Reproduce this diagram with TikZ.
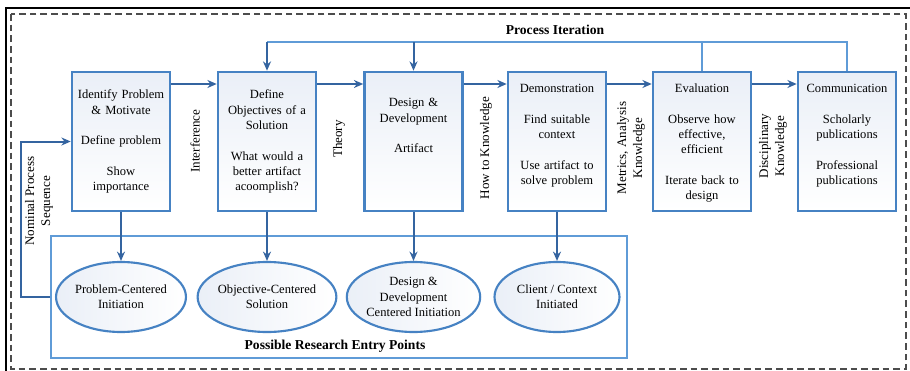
\documentclass[tikz,border=0pt]{standalone}
\usepackage{fontspec}
\setmainfont{Liberation Serif}
\usetikzlibrary{arrows.meta, positioning, shapes.geometric}
\definecolor{boxblue}{RGB}{70,130,195}
\definecolor{arrblue}{RGB}{52,100,160}
\definecolor{iterblue}{RGB}{95,155,215}
\definecolor{boxfill}{RGB}{234,239,247}

\begin{document}
\begin{tikzpicture}[
  x=0.75pt, y=-0.75pt,
  stage/.style={draw=boxblue, rectangle, line width=1.9pt,
                top color=boxfill, bottom color=white,
                text width=70pt, align=center, inner xsep=1.75pt, inner ysep=0pt,
                text height=15.4pt, text depth=88.85pt,
                font=\fontsize{9.4}{11.5}\selectfont},
  entry/.style={draw=boxblue, ellipse, line width=1.6pt,
                left color=boxfill, right color=white,
                minimum width=93.75pt, minimum height=52.5pt, inner sep=0pt,
                align=center, font=\fontsize{9.4}{11.5}\selectfont},
  region/.style={draw=iterblue, rectangle, line width=1.5pt,
                 minimum width=432pt, minimum height=91.5pt, inner sep=0pt},
  arr/.style={-{Stealth[length=7pt, width=6pt]}, draw=arrblue, line width=1.5pt},
  iter/.style={draw=iterblue, line width=1.9pt},
  lbl/.style={rotate=90, align=center, font=\fontsize{9.8}{12}\selectfont},
  head/.style={font=\bfseries\fontsize{10.2}{12}\selectfont},
  dashframe/.style={draw=black!70, line width=0.9pt, dash pattern=on 5pt off 3pt}
]
\useasboundingbox (0,0) rectangle (910,371);
% Frame
\draw[line width=2.2pt] (6,371) -- (6,8) -- (910,8);
\draw[dashframe] (11,14) rectangle (906,369);
\coordinate (itery) at (0,42);
\coordinate (flowy) at (0,84);
% Process steps
\node[stage, text height=20.2pt, text depth=84.05pt] (ident) at (121,141.5)
  {Identify Problem\\\& Motivate\\[11.5pt]Define problem\\[11.5pt]Show\\importance};
\node[stage, text height=20.2pt, text depth=84.05pt] (obj) at (267,141.5)
  {Define\\Objectives of a\\Solution\\[11.5pt]What would a\\better artifact\\acoomplish?};
\node[stage, text height=26.2pt, text depth=78.05pt] (des) at (413.5,141.5)
  {Design \&\\Development\\[11.5pt]Artifact};
\node[stage] (demo) at (557,141.5)
  {Demonstration\\[11.5pt]Find suitable\\context\\[11.5pt]Use artifact to\\solve problem};
\node[stage] (eval) at (702,141.5)
  {Evaluation\\[11.5pt]Observe how\\effective,\\efficient\\[11.5pt]Iterate back to\\design};
\node[stage] (comm) at (847,141.5)
  {Communication\\[11.5pt]Scholarly\\publications\\[11.5pt]Professional\\publications};
% Sequence
\draw[arr] (ident.east |- flowy) -- (obj.west |- flowy);
\draw[arr] (obj.east |- flowy) -- (des.west |- flowy);
\draw[arr] (des.east |- flowy) -- (demo.west |- flowy);
\draw[arr] (demo.east |- flowy) -- (eval.west |- flowy);
\draw[arr] (eval.east |- flowy) -- (comm.west |- flowy);
\node[lbl] (linter) at (195,141) {Interference};
\node[lbl] (ltheory) at (339,139) {Theory};
\node[lbl] (lhow) at (486,148) {How to Knowledge};
\node[lbl] (lmetric) at (631,148) {Metrics, Analysis\\Knowledge};
\node[lbl] (ldisc) at (773,146) {Disciplinary\\Knowledge};
% Process iteration
\node[head] (liter) at (555,30) {Process Iteration};
\draw[iter] (comm.north) -- (comm.north |- itery) -- (obj.north |- itery);
\draw[iter] (eval.north) -- (eval.north |- itery);
\draw[arr] (obj.north |- itery) -- (obj.north);
\draw[arr] (des.north |- itery) -- (des.north);
% Entry points
\node[region] (entrybox) at (339,297) {};
\node[head] (lentry) at (335,346) {Possible Research Entry Points};
\node[entry] (pcentered) at (121,297) {Problem-Centered\\Initiation};
\node[entry] (ocentered) at (267,297) {Objective-Centered\\Solution};
\node[entry] (dcentered) at (413.5,297) {Design \&\\Development\\Centered Initiation};
\node[entry] (ccentered) at (557,297) {Client / Context\\Initiated};
\draw[arr] (ident.south) -- (pcentered.north);
\draw[arr] (obj.south) -- (ocentered.north);
\draw[arr] (des.south) -- (dcentered.north);
\draw[arr] (demo.south) -- (ccentered.north);
% Nominal sequence
\draw[arr] (entrybox.west) -- ++(-29,0) |- (ident.west);
\node[lbl] (lnominal) at (39,201) {Nominal Process\\Sequence};
\end{tikzpicture}
\end{document}
